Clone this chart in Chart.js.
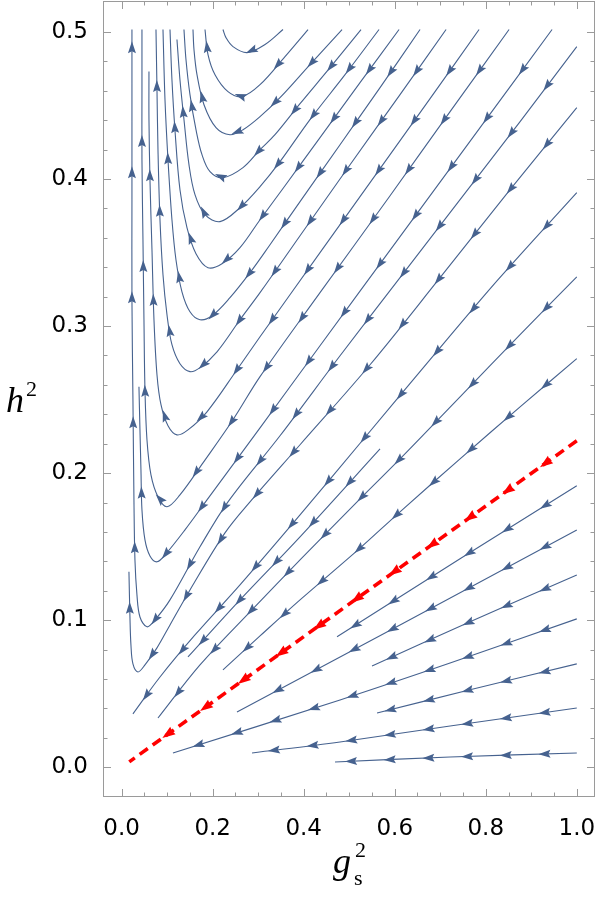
<!DOCTYPE html>
<html>
<head>
<meta charset="utf-8">
<script src="https://cdn.jsdelivr.net/npm/chart.js@4.4.1/dist/chart.umd.min.js"></script>
<style>
  html, body { margin: 0; padding: 0; background: #fff; }
  #wrap { width: 598px; height: 900px; }
</style>
</head>
<body>
<div id="wrap"><canvas id="flowChart" width="598" height="900"></canvas></div>
<script>
// tick values
const xTicks = [0, 0.2, 0.4, 0.6, 0.8, 1.0];
const yTicks = [0, 0.1, 0.2, 0.3, 0.4, 0.5];
const xMinorTicks = [0, 0.05, 0.1, 0.15, 0.2, 0.25, 0.3, 0.35, 0.4, 0.45, 0.5, 0.55, 0.6, 0.65, 0.7, 0.75, 0.8, 0.85, 0.9, 0.95, 1.0];
const yMinorTicks = [0, 0.02, 0.04, 0.06, 0.08, 0.1, 0.12, 0.14, 0.16, 0.18, 0.2, 0.22, 0.24, 0.26, 0.28, 0.3, 0.32, 0.34, 0.36, 0.38, 0.4, 0.42, 0.44, 0.46, 0.48, 0.5];

// fixed ratio line (g_s^2, h^2), listed from the right end toward the origin
const fixedLine = [[1.0, 0.222], [0.0167, 0.0037]];

// streamlines, each listed from where it starts (right / top) to where it ends
const u1 = [[0.3545,0.5016],[0.315,0.4914],[0.2754,0.4859],[0.2446,0.49],[0.2292,0.4961],[0.2226,0.5016]];
const u2 = [[0.4095,0.5016],[0.3589,0.4832],[0.304,0.4641],[0.2644,0.456],[0.2336,0.4594],[0.2051,0.4709],[0.1897,0.4846],[0.1831,0.5016]];
const u3 = [[0.4842,0.5016],[0.4138,0.4778],[0.3479,0.4553],[0.304,0.4424],[0.2666,0.4335],[0.238,0.4301],[0.2073,0.4349],[0.1809,0.4505],[0.1655,0.4709],[0.1589,0.488],[0.1567,0.5016]];
const u4 = [[0.5259,0.5016],[0.4578,0.4757],[0.3919,0.4512],[0.3369,0.4301],[0.304,0.4199],[0.2666,0.4077],[0.2226,0.4009],[0.1941,0.405],[0.1765,0.4165],[0.1633,0.4335],[0.1501,0.4573],[0.1413,0.4812],[0.1369,0.5016]];
const u5 = [[0.5655,0.5016],[0.4908,0.4709],[0.4138,0.4404],[0.3479,0.4118],[0.304,0.3948],[0.26,0.3805],[0.216,0.371],[0.1831,0.3757],[0.1611,0.3893],[0.1479,0.4097],[0.1369,0.4404],[0.1281,0.4675],[0.1215,0.4948]];
const u6 = [[0.6095,0.5016],[0.5237,0.4655],[0.4358,0.4281],[0.3589,0.3954],[0.304,0.3723],[0.26,0.3533],[0.2204,0.3424],[0.1897,0.3397],[0.1633,0.3492],[0.1435,0.3669],[0.1281,0.3927],[0.1171,0.4335],[0.1105,0.4675],[0.1062,0.5016]];
const u7 = [[0.6556,0.5016],[0.5677,0.4621],[0.4798,0.4233],[0.3919,0.3846],[0.3259,0.3553],[0.282,0.3363],[0.238,0.3193],[0.1985,0.307],[0.1721,0.3043],[0.1501,0.3097],[0.1325,0.3233],[0.1193,0.3451],[0.1105,0.3723],[0.1018,0.4131],[0.0952,0.4539],[0.0908,0.5016]];
const u8 = [[0.7128,0.5016],[0.6116,0.4573],[0.5018,0.4097],[0.3919,0.3614],[0.304,0.3227],[0.26,0.3043],[0.2095,0.2825],[0.1721,0.2717],[0.1501,0.269],[0.1281,0.2744],[0.1105,0.2873],[0.0996,0.3077],[0.0908,0.3349],[0.0842,0.3723],[0.0798,0.4199],[0.0776,0.4608],[0.0754,0.5016]];
const u9 = [[0.7853,0.5016],[0.6776,0.4546],[0.5677,0.407],[0.4358,0.3499],[0.304,0.2927],[0.2534,0.2703],[0.1875,0.2417],[0.1457,0.2294],[0.1215,0.226],[0.1018,0.2322],[0.0864,0.2465],[0.0776,0.2669],[0.071,0.3043],[0.0666,0.3519],[0.0622,0.3995],[0.06,0.4404],[0.06,0.473]];
const u10 = [[0.8512,0.5016],[0.7216,0.4458],[0.5897,0.3886],[0.4358,0.3227],[0.304,0.2656],[0.2446,0.2363],[0.1787,0.207],[0.1281,0.1852],[0.0996,0.1771],[0.0798,0.1839],[0.0644,0.1988],[0.0556,0.2227],[0.0512,0.2567],[0.049,0.3043],[0.0468,0.3587],[0.0446,0.4131],[0.0446,0.4608],[0.0446,0.5016]];
const u11 = [[0.9457,0.5016],[0.7875,0.4349],[0.6116,0.3608],[0.4358,0.2866],[0.304,0.2308],[0.1875,0.1818],[0.1391,0.1614],[0.0952,0.1444],[0.0776,0.1397],[0.0622,0.1437],[0.0512,0.1546],[0.0446,0.175],[0.0424,0.2022],[0.0402,0.2294],[0.038,0.2588]];
const u12 = [[1.0,0.49],[0.8754,0.439],[0.7435,0.3859],[0.6116,0.3329],[0.4798,0.2798],[0.3479,0.2254],[0.2336,0.1805],[0.1721,0.1499],[0.1062,0.1138],[0.0732,0.1002],[0.0556,0.0955],[0.0402,0.1022],[0.0336,0.1172],[0.0292,0.141],[0.027,0.1818],[0.0248,0.2499],[0.0226,0.3179],[0.0226,0.3859],[0.0226,0.4539],[0.0226,0.5016]];
const u13 = [[1.0,0.4485],[0.8534,0.3927],[0.6996,0.3329],[0.5457,0.2737],[0.3919,0.2193],[0.282,0.1805],[0.227,0.1594],[0.1501,0.1206],[0.1062,0.0968],[0.0776,0.0812],[0.0512,0.0696],[0.0358,0.0648],[0.0248,0.0703],[0.0204,0.0832],[0.0182,0.1022],[0.016,0.1329]];
const r3 = [[1.0,0.3907],[0.827,0.3315],[0.6776,0.2771],[0.5303,0.2227],[0.3919,0.1716],[0.26,0.124],[0.1611,0.09],[0.0842,0.0614],[0.0248,0.0363]];
const m1 = [[0.5677,0.2165],[0.3919,0.1567],[0.26,0.1138],[0.1457,0.075]];
const r4 = [[1.0,0.3335],[0.8754,0.2941],[0.7435,0.2519],[0.6116,0.2097],[0.5281,0.1839],[0.3919,0.141],[0.282,0.1057],[0.1721,0.0696],[0.0798,0.0335]];
const r5 = [[1.0,0.2778],[0.8754,0.2451],[0.7435,0.2097],[0.6116,0.1737],[0.5193,0.1478],[0.3919,0.1138],[0.304,0.0893],[0.2226,0.0662]];
const b1 = [[1.0,0.1914],[0.7435,0.1418],[0.4732,0.0887]];
const b2 = [[1.0,0.1614],[0.6116,0.0968],[0.2534,0.0376]];
const b3 = [[1.0,0.1308],[0.7655,0.0989],[0.5501,0.0689]];
const b4 = [[1.0,0.1009],[0.7216,0.0709],[0.4798,0.0458],[0.1127,0.0097]];
const b5 = [[1.0,0.0703],[0.7655,0.0527],[0.5611,0.0369]];
const b6 = [[1.0,0.0403],[0.7216,0.0281],[0.4798,0.0172],[0.2864,0.0097]];
const b7 = [[1.0,0.0097],[0.7216,0.007],[0.4688,0.0036]];

const streamlines = [u1, u2, u3, u4, u5, u6, u7, u8, u9, u10, u11, u12, u13, r3, m1, r4, r5, b1, b2, b3, b4, b5, b6, b7];

const streamColor = '#46628f';
const arrowStart = 0.07;   // data units along the line
const arrowGap = 0.085;

function toXY(list) {
    return list.map(p => ({ x: p[0], y: p[1] }));
}

function isMajor(v, majors) {
    return majors.some(m => Math.abs(m - v) < 1e-6);
}

// arrowheads spaced along each line (in data units), drawn through the scales
function drawArrows(ctx, chart, d, size) {
    const xs = chart.scales.x;
    const ys = chart.scales.y;
    const pix = d.map(p => ({ x: xs.getPixelForValue(p.x), y: ys.getPixelForValue(p.y) }));
    const cum = [0];
    for (let i = 1; i < d.length; i++) {
        cum.push(cum[i - 1] + Math.hypot(d[i].x - d[i - 1].x, d[i].y - d[i - 1].y));
    }
    const total = cum[cum.length - 1];
    let j = 0;
    for (let s = arrowStart; s < total - 0.012; s += arrowGap) {
        while (j < cum.length - 2 && cum[j + 1] < s) j++;
        const t = (s - cum[j]) / (cum[j + 1] - cum[j]);
        const px = pix[j].x + t * (pix[j + 1].x - pix[j].x);
        const py = pix[j].y + t * (pix[j + 1].y - pix[j].y);
        let dx = pix[j + 1].x - pix[j].x;
        let dy = pix[j + 1].y - pix[j].y;
        const len = Math.hypot(dx, dy) || 1;
        dx /= len; dy /= len;
        const tip = size.tip, back = size.back, w = size.w, notch = size.notch;
        ctx.beginPath();
        ctx.moveTo(px + dx * tip, py + dy * tip);
        ctx.lineTo(px - dx * back - dy * w, py - dy * back + dx * w);
        ctx.lineTo(px - dx * notch, py - dy * notch);
        ctx.lineTo(px - dx * back + dy * w, py - dy * back - dx * w);
        ctx.closePath();
        ctx.fill();
    }
}

const streamDecor = {
    id: 'streamDecor',
    afterDatasetsDraw(chart) {
        const ctx = chart.ctx;
        ctx.save();
        chart.data.datasets.forEach(ds => {
            if (ds.arrowKind === 'stream') {
                ctx.fillStyle = streamColor;
                drawArrows(ctx, chart, ds.data, { tip: 6.5, back: 5.5, w: 4, notch: 3.5 });
            } else if (ds.arrowKind === 'fixed') {
                ctx.fillStyle = '#ff0000';
                drawArrows(ctx, chart, ds.data, { tip: 7, back: 6, w: 4.6, notch: 5 });
            }
        });
        ctx.restore();
    },
    afterDraw(chart) {
        const ctx = chart.ctx;
        const area = chart.chartArea;
        const xs = chart.scales.x;
        const ys = chart.scales.y;
        ctx.save();
        ctx.strokeStyle = '#9a9a9a';
        ctx.lineWidth = 1;
        ctx.strokeRect(area.left + 0.5, area.top + 0.5, area.right - area.left - 1, area.bottom - area.top - 1);
        ctx.beginPath();
        xMinorTicks.forEach(v => {
            const p = Math.round(xs.getPixelForValue(v)) + 0.5;
            const len = isMajor(v, xTicks) ? 8 : 4.5;
            ctx.moveTo(p, area.bottom); ctx.lineTo(p, area.bottom - len);
            ctx.moveTo(p, area.top); ctx.lineTo(p, area.top + len);
        });
        yMinorTicks.forEach(v => {
            const p = Math.round(ys.getPixelForValue(v)) + 0.5;
            const len = isMajor(v, yTicks) ? 8 : 4.5;
            ctx.moveTo(area.left, p); ctx.lineTo(area.left + len, p);
            ctx.moveTo(area.right, p); ctx.lineTo(area.right - len, p);
        });
        ctx.stroke();

        // axis titles
        ctx.fillStyle = '#000';
        ctx.textBaseline = 'alphabetic';
        ctx.font = 'italic 36px "Liberation Serif"';
        ctx.fillText('h', 6, 412);
        ctx.font = '22px "Liberation Serif"';
        ctx.fillText('2', 26, 396);
        ctx.font = 'italic 36px "Liberation Serif"';
        ctx.fillText('g', 333, 873);
        ctx.font = '22px "Liberation Serif"';
        ctx.fillText('2', 355, 857);
        ctx.fillText('s', 354, 885);
        ctx.restore();
    }
};

const datasets = [{
    data: toXY(fixedLine),
    showLine: true,
    borderColor: '#ff0000',
    borderWidth: 3.6,
    borderDash: [10, 6],
    pointRadius: 0,
    tension: 0,
    arrowKind: 'fixed'
}];
streamlines.forEach(line => {
    datasets.push({
        data: toXY(line),
        showLine: true,
        borderColor: streamColor,
        borderWidth: 1.1,
        pointRadius: 0,
        tension: 0.35,
        arrowKind: 'stream'
    });
});

new Chart(document.getElementById('flowChart').getContext('2d'), {
    type: 'scatter',
    data: { datasets: datasets },
    options: {
        responsive: false,
        animation: false,
        devicePixelRatio: 1,
        layout: { padding: { top: 1, right: 3, left: 0, bottom: 0 } },
        plugins: { legend: { display: false }, tooltip: { enabled: false } },
        scales: {
            x: {
                type: 'linear',
                min: -0.041,
                max: 1.04,
                grid: { display: false, drawTicks: false },
                border: { display: false },
                afterBuildTicks: axis => { axis.ticks = xTicks.map(v => ({ value: v })); },
                afterFit: axis => { axis.height = 103; axis.paddingLeft = 0; axis.paddingRight = 0; },
                ticks: {
                    padding: 18,
                    color: '#000',
                    font: { family: 'DejaVu Sans', size: 23 },
                    callback: v => v.toFixed(1)
                }
            },
            y: {
                type: 'linear',
                min: -0.0202,
                max: 0.521,
                grid: { display: false, drawTicks: false },
                border: { display: false },
                afterBuildTicks: axis => { axis.ticks = yTicks.map(v => ({ value: v })); },
                afterFit: axis => { axis.width = 103; axis.paddingTop = 0; axis.paddingBottom = 0; },
                ticks: {
                    padding: 15,
                    color: '#000',
                    font: { family: 'DejaVu Sans', size: 23 },
                    callback: v => v.toFixed(1)
                }
            }
        }
    },
    plugins: [streamDecor]
});
</script>
</body>
</html>
